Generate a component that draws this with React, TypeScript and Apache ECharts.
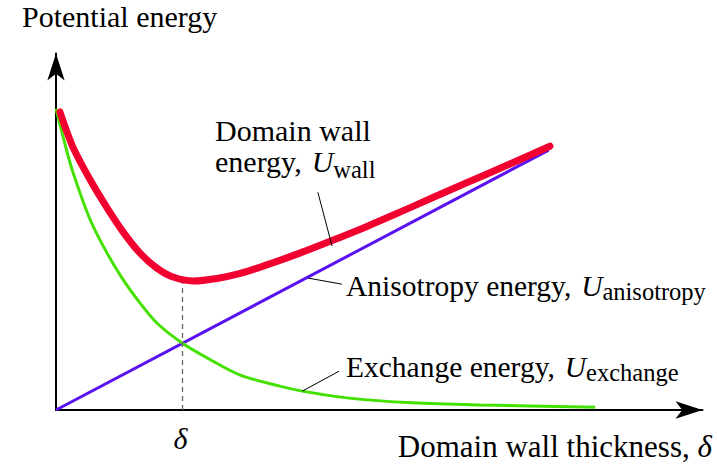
import React, { useEffect, useRef } from "react";
import * as echarts from "echarts";

// ---- data (arbitrary units) ----
const X_MAX = 10;
const Y_MAX = 10;
const DELTA = 1.95; // equilibrium wall thickness

const wallX = [0.06, 0.26, 0.53, 0.79, 1.04, 1.3, 1.56, 1.81, 2.12, 2.49, 2.85, 3.26, 3.77, 4.28, 4.81, 5.32, 5.83, 6.36, 6.87, 7.64];
const wallY = [8.36, 7.38, 6.45, 5.67, 4.99, 4.4, 3.98, 3.73, 3.62, 3.69, 3.83, 4.07, 4.4, 4.76, 5.15, 5.55, 5.96, 6.38, 6.78, 7.4];

const anisoX = [0, 7.62];
const anisoY = [0, 7.29];

const exchX = [0, 0.14, 0.26, 0.53, 0.79, 1.04, 1.3, 1.56, 1.95, 2.34, 2.85, 3.46, 3.81, 4.5, 5.52, 6.56, 8.34];
const exchY = [8.45, 7.45, 6.68, 5.33, 4.4, 3.65, 3.0, 2.44, 1.88, 1.46, 0.98, 0.67, 0.53, 0.34, 0.2, 0.14, 0.08];

const wallMinY = 3.56;

const FAMILY = "Liberation Serif";

// advance widths (em) of the label pieces in a Times-metric serif font
const EM: Record<string, number> = {
  "energy, ": 3.221,
  U: 0.722,
  "Anisotropy energy, ": 7.971,
  "Exchange energy, ": 7.414,
  "Domain wall thickness, ": 9.666,
  "δ": 0.5,
};

type Part = { t: string; size: number; italic?: boolean; dy?: number };

// text element with default (left / top) alignment; y is computed from the baseline
function textEl(text: string, x: number, baseline: number, size: number, italic: boolean) {
  const style: any = { text, fontSize: size, fontFamily: FAMILY, fill: "#000" };
  if (italic) style.fontStyle = "italic";
  return { type: "text", x, y: baseline - 0.8375 * size, style };
}

function textRun(x: number, baseline: number, parts: Part[], alignRight = false) {
  const els: any[] = [];
  const widths = parts.map((p) => (EM[p.t] || 0) * p.size);
  let total = 0;
  widths.forEach((w) => (total += w));
  let cx = alignRight ? x - total : x;
  parts.forEach((p, i) => {
    els.push(textEl(p.t, cx, baseline + (p.dy || 0), p.size, !!p.italic));
    cx += widths[i];
  });
  return els;
}

function pairs(xs: number[], ys: number[]) {
  return xs.map((x, i) => [x, ys[i]]);
}

export default function App() {
  const ref = useRef<HTMLDivElement>(null);

  useEffect(() => {
    if (!ref.current) return;
    const chart = echarts.init(ref.current, null, { renderer: "svg" });

    const axisCommon = {
      type: "value" as const,
      min: 0,
      axisLine: {
        show: true,
        onZero: false,
        symbol: ["none", "arrow"],
        symbolSize: [13, 27],
        lineStyle: { color: "#000", width: 2 },
      },
      axisTick: { show: false },
      axisLabel: { show: false },
      splitLine: { show: false },
    };

    const leaderStyle = { color: "#000", width: 1, type: "solid" };

    const graphic = [
      textEl("Potential energy", 22, 27, 30, false),
      textEl("Domain wall", 215, 141, 30, false),
      ...textRun(215, 172, [
        { t: "energy, ", size: 30 },
        { t: "U", size: 30, italic: true },
        { t: "wall", size: 24.5, dy: 6 },
      ]),
      ...textRun(346, 296, [
        { t: "Anisotropy energy, ", size: 29.5 },
        { t: "U", size: 29.5, italic: true },
        { t: "anisotropy", size: 24.5, dy: 4 },
      ]),
      ...textRun(346, 377, [
        { t: "Exchange energy, ", size: 29.5 },
        { t: "U", size: 29.5, italic: true },
        { t: "exchange", size: 24.5, dy: 4 },
      ]),
      textEl("δ", 181 - EM["δ"] * 15, 449, 30, true),
      ...textRun(
        713,
        457,
        [
          { t: "Domain wall thickness, ", size: 31 },
          { t: "δ", size: 31, italic: true },
        ],
        true
      ),
    ];

    chart.setOption({
      animation: false,
      textStyle: { fontFamily: FAMILY },
      grid: { left: 56, right: 14.5, top: 53.5, bottom: 54 },
      xAxis: { ...axisCommon, max: X_MAX },
      yAxis: { ...axisCommon, max: Y_MAX },
      series: [
        {
          type: "line",
          name: "Anisotropy energy",
          data: pairs(anisoX, anisoY),
          symbol: "none",
          lineStyle: { color: "#5a12f2", width: 3 },
          z: 2,
          markLine: {
            silent: true,
            symbol: ["none", "none"],
            label: { show: false },
            animation: false,
            data: [
              [
                { coord: [DELTA, 0], lineStyle: { color: "#666", width: 1.3, type: [5, 4] } },
                { coord: [DELTA, wallMinY] },
              ],
              [{ coord: [4.05, 6.11], lineStyle: leaderStyle }, { coord: [4.27, 4.6] }],
              [{ coord: [3.9, 3.7], lineStyle: leaderStyle }, { coord: [4.42, 3.53] }],
              [{ coord: [3.81, 0.53], lineStyle: leaderStyle }, { coord: [4.38, 1.09] }],
            ],
          },
        },
        {
          type: "line",
          name: "Exchange energy",
          data: pairs(exchX, exchY),
          symbol: "none",
          smooth: 0.3,
          lineStyle: { color: "#44e000", width: 3 },
          z: 3,
        },
        {
          type: "line",
          name: "Domain wall energy",
          data: pairs(wallX, wallY),
          symbol: "none",
          smooth: 0.3,
          lineStyle: { color: "#f2002f", width: 7, cap: "round", join: "round" },
          z: 4,
        },
      ],
      graphic,
    });

    return () => chart.dispose();
  }, []);

  return (
    <div
      ref={ref}
      style={{ position: "fixed", left: 0, top: 0, width: 717, height: 464, background: "#fff" }}
    />
  );
}
